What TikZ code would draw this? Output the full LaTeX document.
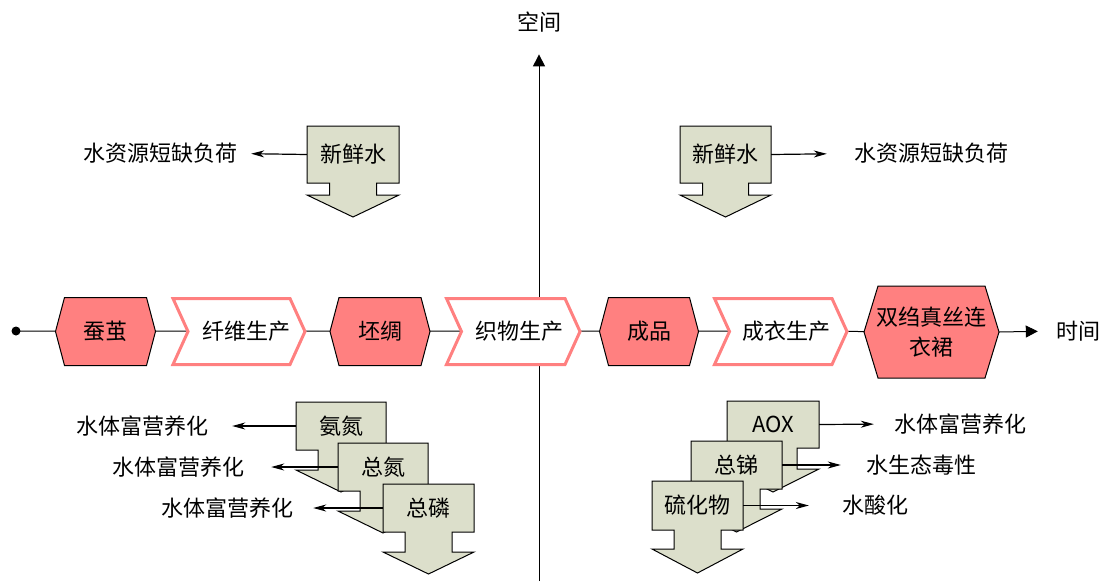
\documentclass[tikz,border=0pt]{standalone}
\usepackage{fontspec}
\setmainfont{Noto Sans CJK SC}
\usetikzlibrary{arrows.meta,backgrounds}
\definecolor{hexred}{RGB}{255,128,128}
\definecolor{boxolive}{RGB}{220,223,203}
\tikzset{
  hexsty/.style={fill=hexred,draw=black,line width=1pt,line join=miter},
  chevsty/.style={fill=white,draw=hexred,line width=3pt,line join=miter},
  boxsty/.style={fill=boxolive,draw=black,line width=1pt,line join=miter},
  lbl/.style={inner sep=0pt,font=\fontsize{22}{30}\selectfont},
  conn/.style={draw=black,line width=1pt},
  sarr/.style={draw=black,line width=1.2pt,-{Stealth[length=13pt,width=7pt,inset=4pt]}},
  axarr/.style={draw=black,line width=1pt,-{Triangle[length=12pt,width=12pt]}},
  dotsty/.style={circle,fill=black,inner sep=0pt,minimum size=9pt}
}
% hexagon: cx, cy, half width, half height, tip depth
\newcommand\hexshape[5]{\path[hexsty] ({#1-#3},#2) -- ({#1-#3+#5},{#2-#4}) -- ({#1+#3-#5},{#2-#4}) -- ({#1+#3},#2) -- ({#1+#3-#5},{#2+#4}) -- ({#1-#3+#5},{#2+#4}) -- cycle;}
% chevron: left x, tip x, cy, half height, depth
\newcommand\chevshape[5]{\path[chevsty] (#1,{#3-#4}) -- ({#2-#5},{#3-#4}) -- (#2,#3) -- ({#2-#5},{#3+#4}) -- (#1,{#3+#4}) -- ({#1+#5},#3) -- cycle;}
% down box: x, y, w, body h, inset, stem h, head h, name, text
\newcommand\dshape[9]{%
  \path[boxsty] (#1,#2) -- ({#1+#3},#2) -- ({#1+#3},{#2+#4}) -- ({#1+#3-#5},{#2+#4}) -- ({#1+#3-#5},{#2+#4+#6}) -- ({#1+#3},{#2+#4+#6}) -- ({#1+#3/2},{#2+#4+#6+#7}) -- (#1,{#2+#4+#6}) -- ({#1+#5},{#2+#4+#6}) -- ({#1+#5},{#2+#4}) -- (#1,{#2+#4}) -- cycle;
  \node[lbl,minimum width=#3pt,minimum height=#4pt] (#8) at ({#1+#3/2},{#2+#4/2}) {#9};}
\begin{document}
\begin{tikzpicture}[x=1pt,y=-1pt]
\useasboundingbox (0,0) rectangle (1107,581);

% main process chain shapes
\hexshape{105.5}{331.5}{50}{34}{9}
\chevshape{173}{305}{331.5}{33}{15}
\hexshape{380}{331.5}{50}{34}{9}
\chevshape{446.5}{580}{331.5}{33}{15}
\hexshape{649}{331.5}{49.5}{34}{9}
\chevshape{714.5}{847}{331.5}{33}{15}
\hexshape{931.5}{332}{67.5}{46}{14}

\node[dotsty] (start) at (16,331) {};
\node[lbl,minimum width=100pt] (c1) at (105.5,331) {蚕茧};
\node[lbl] (p1) at (246,331) {纤维生产};
\node[lbl,minimum width=100pt] (c2) at (380,331) {坯绸};
\node[lbl] (p2) at (519,331) {织物生产};
\node[lbl,minimum width=99pt] (c3) at (649,331) {成品};
\node[lbl] (p3) at (786,331) {成衣生产};
\node[lbl,align=center,minimum width=135pt] (c4) at (931.5,332) {双绉真丝连\\衣裙};
\node[lbl] (time) at (1078,331) {时间};
\node[lbl] (space) at (539,22) {空间};
\coordinate (axbot) at (539,581);

\begin{scope}[on background layer]
  \draw[axarr,shorten >=22pt] (axbot) -- (space.south);
  \draw[conn] (start.center) -- (c1.center) -- (p1.center) -- (c2.center) -- (p2.center) -- (c3.center) -- (p3.center) -- (c4.center);
\end{scope}
\draw[axarr,shorten >=18pt] (c4.east) -- (time.west);

% fresh water inputs
\dshape{307}{126}{92}{57}{22.5}{12}{22}{fwl}{新鲜水}
\dshape{680}{126}{91}{57}{22.5}{12}{22}{fwr}{新鲜水}
\node[lbl] (wsl) at (160,153.5) {水资源短缺负荷};
\node[lbl] (wsr) at (931,153.5) {水资源短缺负荷};
\draw[sarr,shorten >=14pt] (fwl.west) -- (wsl.east);
\draw[sarr,shorten >=27pt] (fwr.east) -- (wsr.west);

% emissions left
\dshape{296}{402}{90}{48}{22}{20}{22}{an}{氨氮}
\dshape{338}{443}{90}{48}{22}{20}{22}{tn}{总氮}
\dshape{383}{484}{91}{48}{22}{20}{22}{tp}{总磷}
\node[lbl] (e1) at (142,426) {水体富营养化};
\node[lbl] (e2) at (178,467) {水体富营养化};
\node[lbl] (e3) at (227,508) {水体富营养化};
\draw[sarr,shorten >=24pt] (an.west) -- (e1.east);
\draw[sarr,shorten >=27pt] (tn.west) -- (e2.east);
\draw[sarr,shorten >=20pt] (tp.west) -- (e3.east);

% emissions right
\dshape{727}{401}{92}{47}{22}{21}{23}{aox}{AOX}
\dshape{691}{441}{91}{48}{22}{20}{23}{sb}{总锑}
\dshape{652}{481}{91}{49}{22}{19}{24}{sf}{硫化物}
\node[lbl] (r1) at (960,424) {水体富营养化};
\node[lbl] (r2) at (921,465) {水生态毒性};
\node[lbl] (r3) at (875,505.5) {水酸化};
\draw[sarr,shorten >=20pt] (aox.east) -- (r1.west);
\draw[sarr,shorten >=25pt] (sb.east) -- (r2.west);
\draw[sarr,shorten >=33pt] (sf.east) -- (r3.west);
\end{tikzpicture}
\end{document}
